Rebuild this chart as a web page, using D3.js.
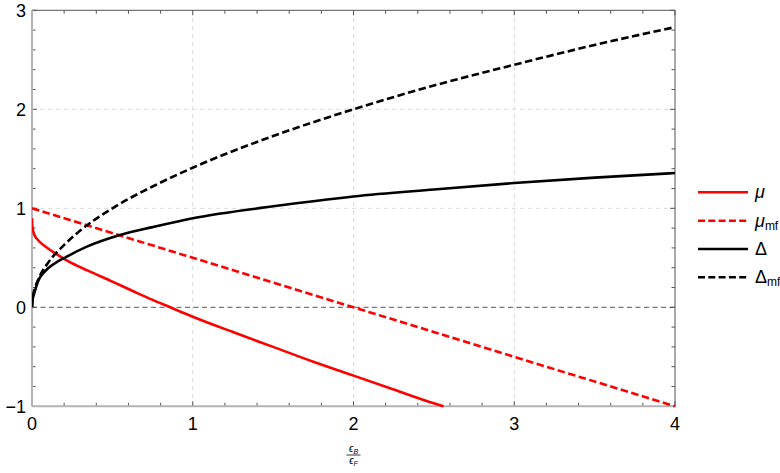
<!DOCTYPE html>
<html><head><meta charset="utf-8">
<script src="https://cdn.jsdelivr.net/npm/d3@7"></script>
<style>body{margin:0;background:#fff;} svg{display:block;}</style>
</head><body>
<svg id="c" width="780" height="473"></svg>
<script>
// Data
const muPoints = [[0,0.90],[0.001,0.84],[0.004,0.80],[0.015,0.73],[0.037,0.68],[0.1,0.594],[0.162,0.527],[0.224,0.466],[0.348,0.37],[0.5,0.26],[0.64,0.155],[0.75,0.075],[0.86,0.0],[1.0,-0.095],[1.25,-0.25],[1.5,-0.40],[1.75,-0.55],[2.0,-0.69],[2.25,-0.83],[2.5,-0.97],[2.56,-1.0]];
const muMfPoints = [[0,1.0],[1,0.5],[2,0.0],[3,-0.5],[4,-1.0]];
const deltaPoints = [[0,0],[0.002,0.06],[0.017,0.157],[0.037,0.26],[0.079,0.36],[0.141,0.443],[0.214,0.51],[0.338,0.61],[0.547,0.73],[0.75,0.81],[1,0.90],[1.5,1.02],[2,1.12],[2.5,1.19],[3,1.255],[3.5,1.31],[4,1.356]];
const deltaMfPoints = [[0,0],[0.005,0.10],[0.02,0.2],[0.05,0.32],[0.1,0.45],[0.2,0.63],[0.3,0.775],[0.5,1.0],[0.75,1.22],[1,1.41],[1.5,1.73],[2,2.0],[2.5,2.24],[3,2.45],[3.5,2.65],[4,2.83]];
const xTicks = [0,1,2,3,4];
const yTicks = [-1,0,1,2,3];
const legendLabels = [["μ",""],["μ","mf"],["Δ",""],["Δ","mf"]];

const svg = d3.select("#c");
const L=32, R=675, T=10.3, B=406.3;
const x = d3.scaleLinear().domain([0,4]).range([L,R]);
const y = d3.scaleLinear().domain([-1,3]).range([B,T]);

// grid
const g = svg.append("g");
[1,2,3].forEach(v=>g.append("line").attr("x1",x(v)).attr("x2",x(v)).attr("y1",T).attr("y2",B)
  .attr("stroke","#d9d9d9").attr("stroke-width",1).attr("stroke-dasharray","4,4"));
[1,2].forEach(v=>g.append("line").attr("x1",L).attr("x2",R).attr("y1",y(v)).attr("y2",y(v))
  .attr("stroke","#d9d9d9").attr("stroke-width",1).attr("stroke-dasharray","4,4"));
// zero line
g.append("line").attr("x1",L).attr("x2",R).attr("y1",y(0)).attr("y2",y(0))
  .attr("stroke","#777").attr("stroke-width",1.2).attr("stroke-dasharray","5,3.5");

// frame
svg.append("line").attr("x1",L).attr("x2",R).attr("y1",T).attr("y2",T).attr("stroke","#555").attr("stroke-width",1);
svg.append("line").attr("x1",R).attr("x2",R).attr("y1",T).attr("y2",B).attr("stroke","#555").attr("stroke-width",1);

// ticks
const minors = d3.range(0,4.0001,0.2);
const yminors = d3.range(-1,3.0001,0.2);
const tk = svg.append("g").attr("stroke","#555").attr("stroke-width",1);
minors.forEach(v=>{
  const maj = Math.abs(v-Math.round(v))<1e-6;
  const len = maj?5:3.5;
  tk.append("line").attr("x1",x(v)).attr("x2",x(v)).attr("y1",B).attr("y2",B-len);
  tk.append("line").attr("x1",x(v)).attr("x2",x(v)).attr("y1",T).attr("y2",T+len);
});
yminors.forEach(v=>{
  const maj = Math.abs(v-Math.round(v))<1e-6;
  const len = maj?5:3.5;
  tk.append("line").attr("x1",L).attr("x2",L+len).attr("y1",y(v)).attr("y2",y(v));
  tk.append("line").attr("x1",R).attr("x2",R-len).attr("y1",y(v)).attr("y2",y(v));
});
svg.append("line").attr("x1",L).attr("x2",R).attr("y1",B).attr("y2",B).attr("stroke","#b3b3b3").attr("stroke-width",2);
svg.append("line").attr("x1",L).attr("x2",L).attr("y1",T).attr("y2",B).attr("stroke","#b3b3b3").attr("stroke-width",2);

// tick labels
const font = "'Liberation Sans', Arial, sans-serif";
xTicks.forEach(v=>svg.append("text").attr("x",x(v)).attr("y",B+24).attr("text-anchor","middle")
  .attr("font-family",font).attr("font-size",18).attr("fill","#000").text(v));
yTicks.forEach(v=>svg.append("text").attr("x",L-6).attr("y",y(v)+6.5).attr("text-anchor","end")
  .attr("font-family",font).attr("font-size",18).attr("fill","#000").text(v<0?"−"+Math.abs(v):v));

// axis label fraction
const fx = (L+R)/2;
const lab = svg.append("g").attr("font-family",font).attr("fill","#000");
const num = lab.append("text").attr("x",fx).attr("y",452).attr("text-anchor","middle").attr("font-size",10);
num.append("tspan").attr("font-style","italic").text("ϵ");
num.append("tspan").attr("font-style","italic").attr("font-size",7).attr("dy",2).text("B");
lab.append("line").attr("x1",fx-7).attr("x2",fx+7).attr("y1",455).attr("y2",455).attr("stroke","#000").attr("stroke-width",0.8);
const den = lab.append("text").attr("x",fx).attr("y",464).attr("text-anchor","middle").attr("font-size",10);
den.append("tspan").attr("font-style","italic").text("ϵ");
den.append("tspan").attr("font-style","italic").attr("font-size",7).attr("dy",2).text("F");

// curves
svg.append("defs").append("clipPath").attr("id","clip").append("rect")
  .attr("x",L).attr("y",T-2).attr("width",R-L+2).attr("height",B-T+4);
const line = d3.line().x(d=>x(d[0])).y(d=>y(d[1])).curve(d3.curveMonotoneX);
const cg = svg.append("g").attr("clip-path","url(#clip)").attr("fill","none").attr("stroke-width",2.6);
cg.append("path").attr("d",line(muPoints)).attr("stroke","#ff0000");
cg.append("path").attr("d",line(muMfPoints)).attr("stroke","#ff0000").attr("stroke-dasharray","7.5,3.5");
cg.append("path").attr("d",line(deltaPoints)).attr("stroke","#000");
cg.append("path").attr("d",line(deltaMfPoints)).attr("stroke","#000").attr("stroke-dasharray","7.5,3.5");

// legend
const styles = [["#ff0000",null],["#ff0000","7,3.3"],["#000",null],["#000","7,3.3"]];
const ly = [192.3,220.7,249,277.3];
legendLabels.forEach((lbl,i)=>{
  svg.append("line").attr("x1",698).attr("x2",748).attr("y1",ly[i]).attr("y2",ly[i])
    .attr("stroke",styles[i][0]).attr("stroke-width",2.6).attr("stroke-dasharray",styles[i][1]);
  const t = svg.append("text").attr("x",755).attr("y",ly[i]+6).attr("font-family",font).attr("font-size",18).attr("fill","#000");
  t.append("tspan").attr("font-style", lbl[0]==="μ"?"italic":"normal").text(lbl[0]);
  if(lbl[1]) t.append("tspan").attr("font-size",12).attr("dy",3).text(lbl[1]);
});
</script>
</body></html>
